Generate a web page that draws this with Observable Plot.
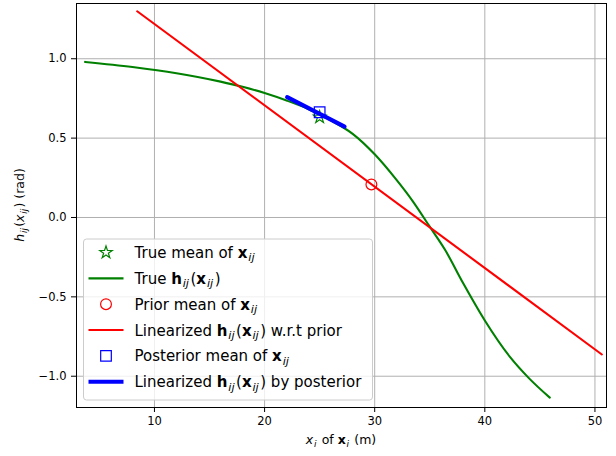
<!DOCTYPE html>
<html>
<head>
<meta charset="utf-8">
<script src="https://cdn.jsdelivr.net/npm/d3@7"></script>
<script src="https://cdn.jsdelivr.net/npm/@observablehq/plot@0.6"></script>
<style>
  body { margin: 0; background: #fff; }
  #chart svg { display: block; }
</style>
</head>
<body>
<div id="chart"></div>
<script>
// ---- data ----
const trueX = [3.7, 8, 12, 16, 18, 20, 22, 24, 25, 26, 28, 30, 32, 33.4, 35, 36.4, 38, 40, 42.3, 44, 45.9];
const trueY = [0.980, 0.948, 0.909, 0.856, 0.823, 0.784, 0.737, 0.682, 0.648, 0.612, 0.527, 0.398, 0.235, 0.108, -0.058, -0.205, -0.410, -0.649, -0.880, -1.012, -1.135];
const priorLineX = [8.43, 50.63];
const priorLineY = [1.299, -0.863];
const postLineX = [22.05, 27.26];
const postLineY = [0.758, 0.573];
const trueMeanX = [25.0];
const trueMeanY = [0.632];
const priorMeanX = [29.7];
const priorMeanY = [0.208];
const postMeanX = [25.0];
const postMeanY = [0.663];
const xTicks = [10, 20, 30, 40, 50];
const yTicks = [-1.0, -0.5, 0.0, 0.5, 1.0];

const zip = (xs, ys) => xs.map((x, i) => ({x, y: ys[i]}));

const W = 616, H = 456;
const mL = 76, mR = 10, mT = 3, mB = 49;
const font = "DejaVu Sans";

const plot = Plot.plot({
  width: W, height: H,
  marginLeft: mL, marginRight: mR, marginTop: mT, marginBottom: mB,
  style: {fontFamily: font, fontSize: "11.5px", background: "#fff", color: "#000"},
  x: {domain: [2.92, 51.05]},
  y: {domain: [-1.197, 1.348]},
  marks: [
    Plot.gridX(xTicks, {stroke: "#b0b0b0", strokeOpacity: 1, strokeWidth: 1}),
    Plot.gridY(yTicks, {stroke: "#b0b0b0", strokeOpacity: 1, strokeWidth: 1}),
    Plot.dot(zip(trueMeanX, trueMeanY), {x: "x", y: "y", symbol: "star", r: 3.9, stroke: "green", fill: "none", strokeWidth: 1.2}),
    Plot.line(zip(trueX, trueY), {x: "x", y: "y", stroke: "green", strokeWidth: 2.1, curve: "monotone-x"}),
    Plot.dot(zip(priorMeanX, priorMeanY), {x: "x", y: "y", symbol: "circle", r: 5.4, stroke: "red", fill: "none", strokeWidth: 1.2}),
    Plot.line(zip(priorLineX, priorLineY), {x: "x", y: "y", stroke: "red", strokeWidth: 2.1}),
    Plot.dot(zip(postMeanX, postMeanY), {x: "x", y: "y", symbol: "square", r: 6.0, stroke: "blue", fill: "none", strokeWidth: 1.2}),
    Plot.line(zip(postLineX, postLineY), {x: "x", y: "y", stroke: "blue", strokeWidth: 4.2}),
    Plot.frame({stroke: "#000", strokeWidth: 1}),
    Plot.axisX({ticks: xTicks, tickSize: 5, tickPadding: 4, tickFormat: d => String(d), label: null}),
    Plot.axisY({ticks: yTicks, tickSize: 5, tickPadding: 5, tickFormat: d3.format(".1f"), label: null})
  ]
});
document.getElementById("chart").appendChild(plot);

const svg = d3.select(plot);

// rich text helper: segments {t, b (bold), i (italic), sub}
function rich(textSel, segs, size, subScale = 0.72) {
  let shifted = false;
  const shift = size * 0.22;
  for (const s of segs) {
    const ts = textSel.append("tspan").text(s.t);
    if (s.sub) {
      ts.attr("font-size", size * subScale).attr("font-style", "italic");
      if (!shifted) { ts.attr("dy", shift).attr("dx", size * 0.06); shifted = true; }
    } else {
      ts.attr("font-size", size);
      if (shifted) { ts.attr("dy", -shift).attr("dx", size * 0.1); shifted = false; }
      if (s.i) ts.attr("font-style", "italic");
    }
    if (s.b) ts.attr("font-weight", "bold");
  }
  return textSel;
}

// axis labels
const labFs = 12.5;
rich(svg.append("text")
  .attr("x", (mL + W - mR) / 2).attr("y", 444)
  .attr("text-anchor", "middle").attr("font-family", font).attr("fill", "#000"),
  [{t: "x", i: true}, {t: "i", sub: true}, {t: " of "}, {t: "x", b: true}, {t: "i", sub: true}, {t: " (m)"}], labFs);

rich(svg.append("text")
  .attr("transform", `translate(24,${(mT + H - mB) / 2}) rotate(-90)`)
  .attr("text-anchor", "middle").attr("font-family", font).attr("fill", "#000"),
  [{t: "h", i: true}, {t: "ij", sub: true}, {t: "("}, {t: "x", i: true}, {t: "ij", sub: true}, {t: ") (rad)"}], labFs);

// legend
const legFs = 15;
const lg = svg.append("g").attr("font-family", font).attr("text-anchor", "start");
lg.append("rect")
  .attr("x", 83.5).attr("y", 239).attr("width", 289).attr("height", 161)
  .attr("rx", 3).attr("fill", "#fff").attr("fill-opacity", 0.8)
  .attr("stroke", "#cccccc").attr("stroke-width", 1);

const legendItems = [
  {kind: "star", color: "green", segs: [{t: "True mean of "}, {t: "x", b: true}, {t: "ij", sub: true}]},
  {kind: "line", color: "green", w: 2.1, segs: [{t: "True "}, {t: "h", b: true}, {t: "ij", sub: true}, {t: "("}, {t: "x", b: true}, {t: "ij", sub: true}, {t: ")"}]},
  {kind: "circle", color: "red", segs: [{t: "Prior mean of "}, {t: "x", b: true}, {t: "ij", sub: true}]},
  {kind: "line", color: "red", w: 2.1, segs: [{t: "Linearized "}, {t: "h", b: true}, {t: "ij", sub: true}, {t: "("}, {t: "x", b: true}, {t: "ij", sub: true}, {t: ") w.r.t prior"}]},
  {kind: "square", color: "blue", segs: [{t: "Posterior mean of "}, {t: "x", b: true}, {t: "ij", sub: true}]},
  {kind: "line", color: "blue", w: 4.2, segs: [{t: "Linearized "}, {t: "h", b: true}, {t: "ij", sub: true}, {t: "("}, {t: "x", b: true}, {t: "ij", sub: true}, {t: ") by posterior"}]}
];

legendItems.forEach((it, k) => {
  const cy = 252.5 + k * 25.85;
  const hx0 = 88.5, hx1 = 123.5, hc = (hx0 + hx1) / 2;
  if (it.kind === "line") {
    lg.append("line").attr("x1", hx0).attr("x2", hx1).attr("y1", cy).attr("y2", cy)
      .attr("stroke", it.color).attr("stroke-width", it.w);
  } else {
    const type = it.kind === "star" ? d3.symbolStar : it.kind === "circle" ? d3.symbolCircle : d3.symbolSquare;
    const r = it.kind === "star" ? 3.9 : it.kind === "circle" ? 5.4 : 6.0;
    lg.append("path").attr("d", d3.symbol(type, Math.PI * r * r)())
      .attr("transform", `translate(${hc},${cy})`)
      .attr("fill", "none").attr("stroke", it.color).attr("stroke-width", 1.2);
  }
  rich(lg.append("text").attr("x", 134.5).attr("y", cy + 5.5).attr("text-anchor", "start").attr("fill", "#000"), it.segs, legFs, 0.75);
});
</script>
</body>
</html>
